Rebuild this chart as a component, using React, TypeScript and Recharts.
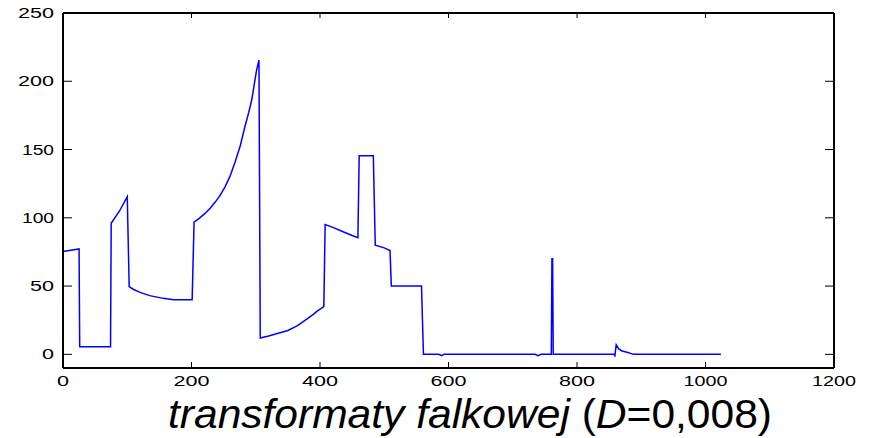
import React from "react";
import { Line, LineChart, XAxis, YAxis } from "recharts";

// signal: x position, value
const sampleX = [
  0, 12, 25, 26, 74, 75, 88, 100, 103, 110, 120, 135, 156, 172, 180, 201,
  204, 212, 221, 229, 237, 245, 252, 260, 268, 276, 283, 289, 294, 301, 305,
  307, 320, 335, 350, 365, 380, 390, 395, 406, 408, 420, 435, 450, 459, 461,
  483, 486, 500, 509, 511, 558, 561, 585, 589, 593, 735, 739, 744, 760, 761,
  762, 763, 857, 859, 861, 865, 870, 878, 888, 1024,
];
const sampleY = [
  75.3, 76.3, 77.2, 5.5, 5.5, 96, 105, 115.5, 49.6, 47.5, 45.4, 43, 41, 40,
  40, 40, 96.8, 99.6, 103.2, 107, 111.5, 116.8, 122.5, 130.5, 141, 153, 166.5,
  177, 187, 207.5, 215.5, 12, 13.5, 15.5, 17.5, 21, 26, 29.5, 31.5, 35, 95, 93,
  90, 87, 85.5, 145.5, 145.5, 80, 78, 76, 50, 50, 0, 0, -1, 0, 0, -1, 0, 0, 70,
  70, 0, 0, -1, 7, 4, 2.5, 1.5, 0, 0,
];

const xTicks = [0, 200, 400, 600, 800, 1000, 1200];
const yTicks = [0, 50, 100, 150, 200, 250];

const chartData = sampleX.map((x, i) => ({ x, y: sampleY[i] }));

const FONT = '"Liberation Sans", Arial, sans-serif';

function labelWidth(v: number): number {
  return String(v)
    .split("")
    .reduce((w, c) => w + (c === "1" ? 8 : 12), 0);
}

function LeftTick(props: any) {
  const { x, y, payload } = props;
  const ax = x + 9;
  return (
    <g>
      <line x1={ax} x2={ax + 9} y1={y} y2={y} stroke="#000" strokeWidth={1} />
      <text
        x={x}
        y={y + 5}
        textAnchor="end"
        fontSize={14}
        fontFamily={FONT}
        textLength={labelWidth(payload.value)}
        lengthAdjust="spacingAndGlyphs"
        fill="#000"
      >
        {payload.value}
      </text>
    </g>
  );
}

function RightTick(props: any) {
  const { x, y } = props;
  return <line x1={x} x2={x - 9} y1={y} y2={y} stroke="#000" strokeWidth={1} />;
}

function BottomTick(props: any) {
  const { x, y, payload } = props;
  return (
    <g>
      <line x1={x} x2={x} y1={y} y2={y - 6} stroke="#000" strokeWidth={1} />
      <text
        x={x}
        y={y + 18}
        textAnchor="middle"
        fontSize={14}
        fontFamily={FONT}
        textLength={labelWidth(payload.value)}
        lengthAdjust="spacingAndGlyphs"
        fill="#000"
      >
        {payload.value}
      </text>
    </g>
  );
}

function TopTick(props: any) {
  const { x, y } = props;
  return <line x1={x} x2={x} y1={y} y2={y + 5} stroke="#000" strokeWidth={1} />;
}

function Title(props: any) {
  const vb = props.viewBox || { x: 63, y: 368 };
  return (
    <text
      x={vb.x + 105}
      y={vb.y + 60}
      fontSize={40}
      fontFamily={FONT}
      textLength={604}
      lengthAdjust="spacingAndGlyphs"
      fill="#000"
    >
      <tspan fontStyle="italic">transformaty falkowej</tspan>
      <tspan> (</tspan>
      <tspan fontStyle="italic">D</tspan>
      <tspan>=0,008)</tspan>
    </text>
  );
}

const frame = { stroke: "#000", strokeWidth: 2 };

export default function App() {
  return (
    <div style={{ position: "absolute", left: 0, top: 0, background: "#fff" }}>
      <LineChart
        width={870}
        height={438}
        data={chartData}
        margin={{ top: 12, right: 35, bottom: 0, left: 0 }}
      >
        <XAxis
          dataKey="x"
          type="number"
          domain={[0, 1200]}
          ticks={xTicks}
          allowDataOverflow
          height={70}
          axisLine={frame}
          tickLine={false}
          tickSize={0}
          tickMargin={0}
          tick={<BottomTick />}
          interval={0}
          label={{ content: (p: any) => <Title {...p} /> }}
        />
        <XAxis
          xAxisId="top"
          dataKey="x"
          orientation="top"
          type="number"
          domain={[0, 1200]}
          ticks={xTicks}
          allowDataOverflow
          height={1}
          axisLine={frame}
          tickLine={false}
          tickSize={0}
          tickMargin={0}
          tick={<TopTick />}
          interval={0}
        />
        <YAxis
          type="number"
          domain={[-10, 250]}
          ticks={yTicks}
          allowDataOverflow
          width={63}
          axisLine={frame}
          tickLine={false}
          tickSize={0}
          tickMargin={9}
          tick={<LeftTick />}
          interval={0}
        />
        <YAxis
          yAxisId="right"
          orientation="right"
          type="number"
          domain={[-10, 250]}
          ticks={yTicks}
          allowDataOverflow
          width={1}
          axisLine={frame}
          tickLine={false}
          tickSize={0}
          tickMargin={0}
          tick={<RightTick />}
          interval={0}
        />
        {/* invisible twin so the top and right frame axes get drawn */}
        <Line
          xAxisId="top"
          yAxisId="right"
          type="linear"
          dataKey="y"
          stroke="none"
          dot={false}
          activeDot={false}
          legendType="none"
          isAnimationActive={false}
        />
        <Line
          type="linear"
          dataKey="y"
          stroke="#0000ff"
          strokeWidth={1.5}
          dot={false}
          isAnimationActive={false}
        />
      </LineChart>
    </div>
  );
}
